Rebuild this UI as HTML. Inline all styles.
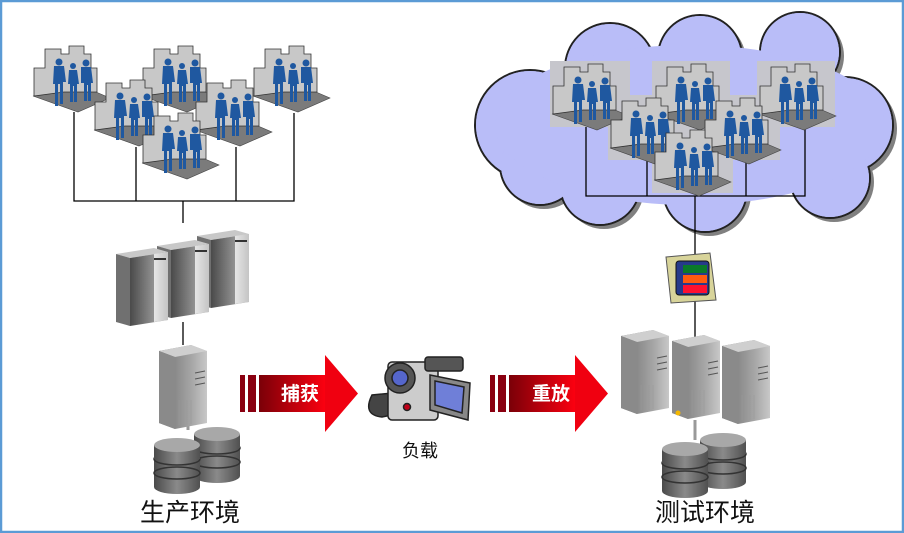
<!DOCTYPE html>
<html><head><meta charset="utf-8"><style>
body{margin:0;background:#fff;}
svg{display:block;}
</style></head><body>
<svg width="904" height="533" viewBox="0 0 904 533" xmlns="http://www.w3.org/2000/svg" font-family="Liberation Sans, Noto Sans CJK SC, sans-serif">
<defs>
<linearGradient id="tw" x1="0" x2="1" y1="0" y2="0"><stop offset="0" stop-color="#4a4a4a"/><stop offset="0.7" stop-color="#9a9a9a"/><stop offset="1" stop-color="#b8b8b8"/></linearGradient>
<linearGradient id="tw2" x1="0" x2="1"><stop offset="0" stop-color="#e6e6e6"/><stop offset="1" stop-color="#c4c4c4"/></linearGradient>
<linearGradient id="db" x1="0" x2="1"><stop offset="0" stop-color="#4a4a4a"/><stop offset="0.5" stop-color="#8a8a8a"/><stop offset="1" stop-color="#505050"/></linearGradient>
<linearGradient id="ar" x1="0" x2="1"><stop offset="0" stop-color="#7a0008"/><stop offset="1" stop-color="#ff0010"/></linearGradient>
<linearGradient id="sv" x1="0" x2="1"><stop offset="0" stop-color="#6e6e6e"/><stop offset="0.7" stop-color="#a8a8a8"/><stop offset="1" stop-color="#c8c8c8"/></linearGradient>
<g id="off">
<polygon points="-1,50 44,66 76,52 62,46 30,46" fill="#7b7b7b" stroke="#444" stroke-width="0.6"/>
<polygon points="0,22 11,22 11,3 27,3 27,8 35,8 35,0 50,0 50,8 57,8 57,22 63,22 63,46 30,46 0,50" fill="#c8c8c8" stroke="#333" stroke-width="0.8"/>
<g fill="#1f58a0">
<circle cx="25" cy="16" r="3.5"/><path d="M20,20 h10 l2,16 h-3 v22 h-3 v-20 h-2 v22 h-3 v-22 h-2 z"/>
<circle cx="39" cy="20" r="3"/><path d="M35,24 h8 l2,14 h-2 v18 h-3 v-16 h-1 v16 h-3 v-18 h-2 z"/>
<circle cx="52" cy="17" r="3.5"/><path d="M47,21 h10 l2,16 h-2 v18 h-3 v-16 h-1 v16 h-3 v-18 h-3 z"/>
</g>
</g>
<g id="tower">
<polygon points="0,6 38,0 52,4 14,10" fill="#c8c8c8"/>
<polygon points="0,6 14,10 14,78 0,74" fill="#707070"/>
<polygon points="14,10 52,4 52,72 14,78" fill="url(#tw)"/>
<polygon points="38,6 52,4 52,72 38,74" fill="url(#tw2)"/>
<rect x="38" y="10" width="12" height="2" fill="#333"/>
</g>
<g id="srv">
<polygon points="0,6 32,0 48,6 48,78 16,84 0,78" fill="url(#sv)"/>
<polygon points="0,6 32,0 48,6 16,12" fill="#cfcfcf"/>
<polygon points="0,6 16,12 16,84 0,78" fill="#8a8a8a"/>
<line x1="36" y1="28" x2="46" y2="26" stroke="#555"/><line x1="36" y1="34" x2="46" y2="32" stroke="#555"/><line x1="36" y1="40" x2="46" y2="38" stroke="#555"/>
<g stroke="#999" stroke-width="0.6"><line x1="20" y1="55" x2="20" y2="80"/><line x1="24" y1="55" x2="24" y2="80"/><line x1="28" y1="55" x2="28" y2="80"/><line x1="32" y1="55" x2="32" y2="79"/></g>
</g>
<g id="cyl">
<rect x="0" y="8" width="46" height="42" fill="url(#db)"/>
<ellipse cx="23" cy="50" rx="23" ry="7" fill="url(#db)"/>
<ellipse cx="23" cy="22" rx="23" ry="6" fill="none" stroke="#333" stroke-width="1.5"/>
<ellipse cx="23" cy="36" rx="23" ry="6" fill="none" stroke="#333" stroke-width="1.5"/>
<rect x="0" y="8" width="46" height="14" fill="url(#db)"/>
<ellipse cx="23" cy="8" rx="23" ry="7" fill="#a8a8a8"/>
</g>
<g id="arrow">
<rect x="0" y="0" width="5" height="37" fill="#8a0010"/>
<rect x="8" y="0" width="8" height="37" fill="#8a0010"/>
<rect x="19" y="0" width="68" height="37" fill="url(#ar)"/>
<polygon points="85,-20 118,18.5 85,57" fill="#f00010"/>
</g>
</defs>
<rect x="1" y="1" width="902" height="531" fill="#fff" stroke="#5b9bd5" stroke-width="2.5"/>

<g stroke="#000" stroke-width="1.3" fill="none">
<polyline points="74,112 74,201 294,201 294,113"/>
<line x1="136" y1="147" x2="136" y2="201"/><line x1="236" y1="147" x2="236" y2="201"/>
<line x1="183" y1="201" x2="183" y2="223"/>
<line x1="183" y1="322" x2="183" y2="345"/>
</g>
<use href="#off" x="34" y="46"/><use href="#off" x="143" y="46"/><use href="#off" x="254" y="46"/>
<use href="#off" x="95" y="80"/><use href="#off" x="196" y="80"/><use href="#off" x="143" y="113"/>

<use href="#tower" x="197" y="230"/><use href="#tower" x="157" y="240"/><use href="#tower" x="116" y="248"/>
<line x1="188" y1="410" x2="188" y2="430" stroke="#999" stroke-width="3"/>
<use href="#srv" x="159" y="345"/>
<use href="#cyl" x="194" y="426"/><use href="#cyl" x="154" y="437"/>
<text x="190" y="521" font-size="25" text-anchor="middle" fill="#111">生产环境</text>

<use href="#arrow" x="240" y="375"/>
<text x="300" y="400" font-size="19" font-weight="bold" fill="#fff" text-anchor="middle">捕获</text>
<use href="#arrow" x="490" y="375"/>
<text x="551" y="400" font-size="19" font-weight="bold" fill="#fff" text-anchor="middle">重放</text>

<g stroke="#222" stroke-width="1.5">
<path d="M372,395 q-10,20 10,22 l25,-5 -4,-20 z" fill="#444"/>
<rect x="388" y="362" width="50" height="58" rx="4" fill="#ccc"/>
<rect x="425" y="357" width="38" height="14" rx="3" fill="#555"/>
<circle cx="400" cy="378" r="15" fill="#555"/>
<circle cx="400" cy="378" r="8" fill="#5566cc"/>
<polygon points="430,375 470,383 468,420 430,410" fill="#888"/>
<polygon points="435,381 464,387 462,413 435,405" fill="#6f7fd8"/>
<circle cx="407" cy="407" r="3.5" fill="#c00018"/>
</g>
<text x="420" y="457" font-size="18" text-anchor="middle" fill="#111">负载</text>

<g fill="#808080" transform="translate(4,4)">
<circle cx="530" cy="125" r="55"/><circle cx="610" cy="68" r="45"/><circle cx="700" cy="57" r="42"/><circle cx="800" cy="52" r="40"/><circle cx="845" cy="125" r="48"/><circle cx="830" cy="178" r="40"/><circle cx="705" cy="190" r="42"/><circle cx="600" cy="185" r="40"/><circle cx="540" cy="165" r="40"/>
</g>
<g fill="#b9bdf8" stroke="#222" stroke-width="2">
<circle cx="530" cy="125" r="55"/><circle cx="610" cy="68" r="45"/><circle cx="700" cy="57" r="42"/><circle cx="800" cy="52" r="40"/><circle cx="845" cy="125" r="48"/><circle cx="830" cy="178" r="40"/><circle cx="705" cy="190" r="42"/><circle cx="600" cy="185" r="40"/><circle cx="540" cy="165" r="40"/>
</g>
<g fill="#b9bdf8">
<circle cx="530" cy="125" r="54"/><circle cx="610" cy="68" r="44"/><circle cx="700" cy="57" r="41"/><circle cx="800" cy="52" r="39"/><circle cx="845" cy="125" r="47"/><circle cx="830" cy="178" r="39"/><circle cx="705" cy="190" r="41"/><circle cx="600" cy="185" r="39"/><circle cx="540" cy="165" r="39"/>
<ellipse cx="690" cy="125" rx="195" ry="80"/>
</g>
<g stroke="#000" stroke-width="1.3" fill="none">
<polyline points="586,125 586,196 805,196 805,128"/>
<line x1="647" y1="160" x2="647" y2="196"/><line x1="746" y1="160" x2="746" y2="196"/>
<line x1="695" y1="196" x2="695" y2="255"/>
<line x1="695" y1="298" x2="695" y2="340"/>
</g>
<g fill="#c6c6cc">
<rect x="550" y="61" width="80" height="66"/><rect x="652" y="61" width="78" height="66"/><rect x="757" y="61" width="78" height="66"/>
<rect x="608" y="95" width="82" height="65"/><rect x="702" y="95" width="78" height="65"/><rect x="652" y="127" width="81" height="66"/>
</g>
<use href="#off" x="553" y="64"/><use href="#off" x="656" y="64"/><use href="#off" x="760" y="64"/>
<use href="#off" x="611" y="98"/><use href="#off" x="705" y="98"/><use href="#off" x="655" y="130"/>

<polygon points="666,257 710,253 716,300 671,303" fill="#d8d49a" stroke="#555" stroke-width="1"/>
<rect x="676" y="261" width="33" height="34" rx="3" fill="#263a8a" stroke="#111"/>
<rect x="683" y="265" width="24" height="8" fill="#0a7a2a"/>
<rect x="683" y="275" width="24" height="8" fill="#ff5a10"/>
<rect x="683" y="285" width="24" height="8" fill="#ff1030"/>

<use href="#srv" x="621" y="330"/><use href="#srv" x="672" y="335"/><use href="#srv" x="722" y="340"/>
<circle cx="678" cy="413" r="2.5" fill="#f5b800"/>
<line x1="695" y1="420" x2="695" y2="440" stroke="#999" stroke-width="3"/>
<use href="#cyl" x="700" y="432"/><use href="#cyl" x="662" y="441"/>
<text x="705" y="521" font-size="25" text-anchor="middle" fill="#111">测试环境</text>
</svg>
</body></html>
